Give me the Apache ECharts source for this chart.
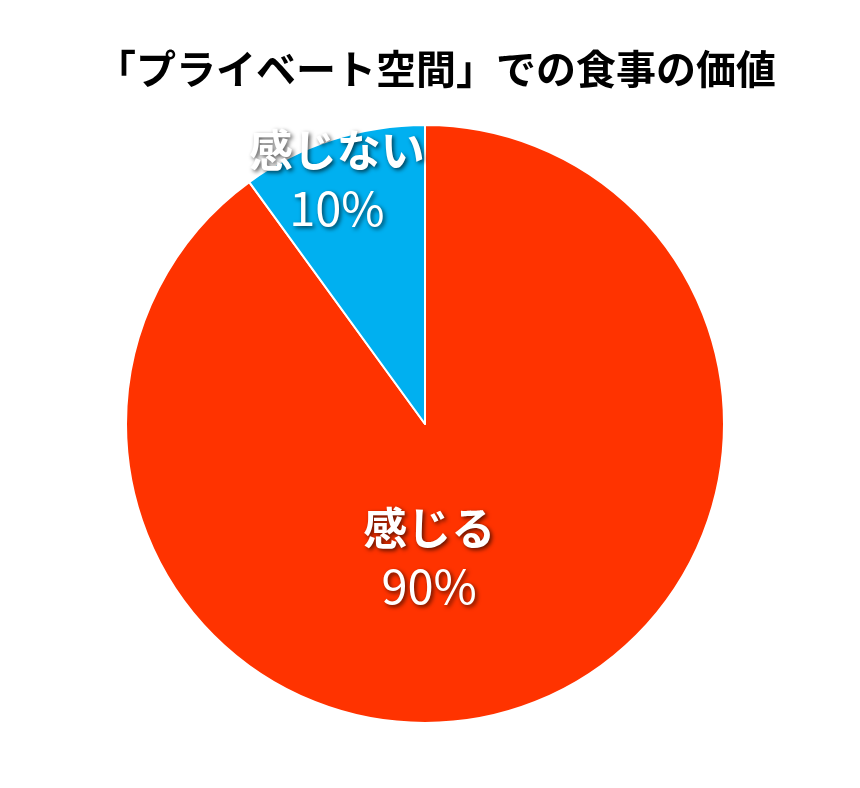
<!DOCTYPE html>
<html>
<head>
    <meta charset="UTF-8">
    <title>「プライベート空間」での食事の価値</title>
    <script src="https://cdn.jsdelivr.net/npm/echarts@6/dist/echarts.min.js"></script>
    <style>
        html, body { margin: 0; padding: 0; background: #fff; }
        #pie { width: 860px; height: 788px; }
    </style>
</head>
<body>
    <div id="pie"></div>

    <script>
            // data
            var titleText = '「プライベート空間」での食事の価値';
            var names = ['感じる', '感じない'];
            var values = [90, 10];
            var colors = ['#FF3300', '#00B0F0'];
            // label nudges so the text sits where the original put it
            var labelOffsets = [[-43, -12], [-41, -100]];

            var font = '"Noto Sans CJK JP", "Noto Sans", sans-serif';
            var items = [];
            for (var i = 0; i < names.length; i++) {
                items.push({
                    name: names[i],
                    value: values[i],
                    itemStyle: { color: colors[i] },
                    label: { offset: labelOffsets[i] }
                });
            }

            var shadow = { textShadowColor: 'rgba(0,0,0,0.65)', textShadowBlur: 4, textShadowOffsetX: 2, textShadowOffsetY: 2 };

            var chart = echarts.init(document.getElementById('pie'), null, {renderer: 'canvas'});
            chart.setOption({
                animation: false,
                title: {
                    text: titleText,
                    left: 91,
                    top: 44,
                    textStyle: { fontFamily: font, fontSize: 40, fontWeight: 'bold', color: '#000' }
                },
                series: [{
                    type: 'pie',
                    center: [425, 424],
                    radius: 299,
                    startAngle: 90,
                    clockwise: true,
                    itemStyle: { borderColor: '#fff', borderWidth: 2 },
                    label: {
                        position: 'inside',
                        formatter: '{n|{b}}\n{p|{c}%}',
                        rich: {
                            n: Object.assign({ fontFamily: font, fontSize: 44, fontWeight: 'bold', color: '#fff', lineHeight: 58 }, shadow),
                            p: Object.assign({ fontFamily: font, fontSize: 47, color: '#fff', lineHeight: 58 }, shadow)
                        }
                    },
                    labelLine: { show: false },
                    emphasis: { disabled: true },
                    data: items
                }]
            });
    </script>
</body>
</html>
